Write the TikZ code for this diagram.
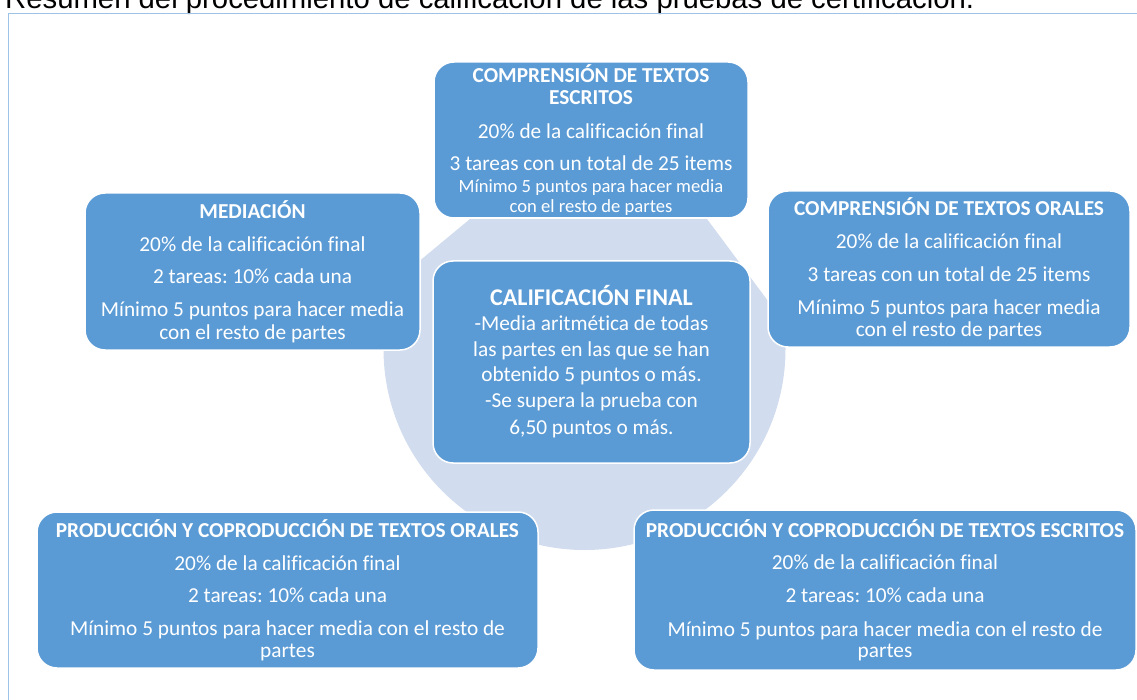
\documentclass[tikz,border=0pt]{standalone}
\usepackage{fontspec}
\setmainfont[Ligatures=NoCommon]{Carlito}
\newfontfamily\arialf{Liberation Sans}
\definecolor{boxblue}{RGB}{91,155,213}
\definecolor{ringfill}{RGB}{209,220,238}
\definecolor{framec}{RGB}{157,195,230}
\newcommand\hdf{\bfseries\fontsize{21.3}{20}\selectfont}
\newcommand\smf{\fontsize{18.6}{18}\selectfont}
\frenchspacing
\begin{document}
\begin{tikzpicture}[x=1pt,y=-1pt,
  box/.style={draw=white, line width=1.5pt, fill=boxblue, rounded corners=20pt,
    text=white, align=center, inner sep=0pt,
    font=\fontsize{21.3}{20}\selectfont\frenchspacing}]
\useasboundingbox (0,0) rectangle (1137,700);
\node[anchor=base west, inner sep=0pt, font=\arialf\fontsize{29.3}{29}\selectfont] (title) at (5,9)
  {Resumen del procedimiento de calificación de las pruebas de certificación.};
\draw[framec, line width=1.8pt] (8.5,13.5) rectangle (1170,730);
\begin{scope}
  \clip (470,219) -- (707,219) -- (800,344) -- (800,570) -- (370,570) -- (370,302) -- cycle;
  \fill[ringfill] (584.5,349) circle (201);
\end{scope}
\node[box, minimum width=314pt, minimum height=156pt] (T) at (591,140)
  {\hdf COMPRENSIÓN DE TEXTOS\\[2pt] \hdf ESCRITOS\\[14pt]
   20\% de la calificación final\\[12pt]
   3 tareas con un total de 25 items\\[2pt]
   \smf Mínimo 5 puntos para hacer media\\
   \smf con el resto de partes};
\node[box, minimum width=335pt, minimum height=157pt] (M) at (252.5,271.5)
  {\hdf MEDIACIÓN\\[13pt]
   20\% de la calificación final\\[12pt]
   2 tareas: 10\% cada una\\[13pt]
   Mínimo 5 puntos para hacer media\\[3pt]
   con el resto de partes};
\node[box, minimum width=362pt, minimum height=156pt] (O) at (949,269)
  {\hdf COMPRENSIÓN DE TEXTOS ORALES\\[13pt]
   20\% de la calificación final\\[13pt]
   3 tareas con un total de 25 items\\[13pt]
   Mínimo 5 puntos para hacer media\\[2pt]
   con el resto de partes};
\node[box, minimum width=317pt, minimum height=202pt] (C) at (591.5,362)
  {\bfseries\fontsize{24}{24}\selectfont CALIFICACIÓN FINAL\\[5pt]
   -Media aritmética de todas\\[6pt]
   las partes en las que se han\\[5pt]
   obtenido 5 puntos o más.\\[6pt]
   -Se supera la prueba con\\[7pt]
   6,50 puntos o más.};
\node[box, minimum width=501pt, minimum height=156pt] (PO) at (287.5,590)
  {\hdf PRODUCCIÓN Y COPRODUCCIÓN DE TEXTOS ORALES\\[13pt]
   20\% de la calificación final\\[12pt]
   2 tareas: 10\% cada una\\[13pt]
   Mínimo 5 puntos para hacer media con el resto de\\[2pt]
   partes};
\node[box, minimum width=502pt, minimum height=160pt] (PE) at (885,590)
  {\hdf PRODUCCIÓN Y COPRODUCCIÓN DE TEXTOS ESCRITOS\\[12pt]
   20\% de la calificación final\\[13pt]
   2 tareas: 10\% cada una\\[14pt]
   Mínimo 5 puntos para hacer media con el resto de\\[1pt]
   partes};
\end{tikzpicture}
\end{document}
